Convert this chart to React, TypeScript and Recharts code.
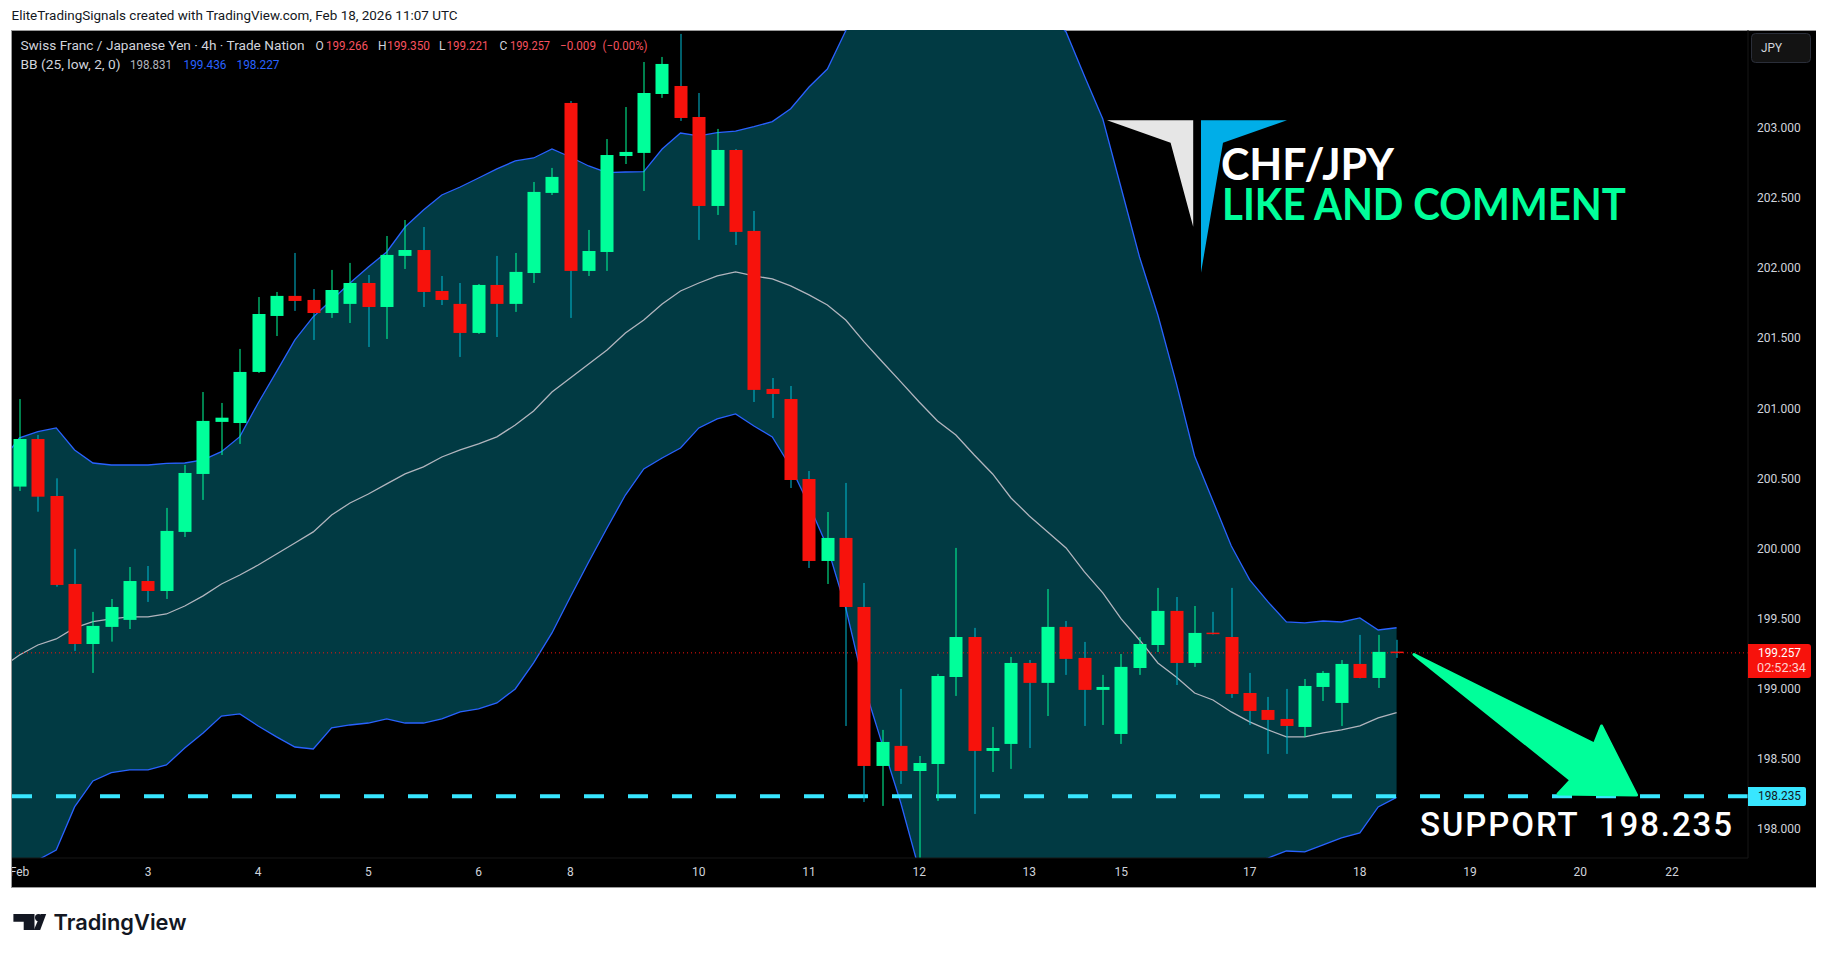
import React from "react";
import { ComposedChart, Area, Bar, Line, XAxis, YAxis, ReferenceLine } from "recharts";

const candleOpen = [200.442,200.781,200.375,199.748,199.320,199.442,199.492,199.769,199.698,200.119,200.532,200.903,200.895,201.259,201.658,201.801,201.772,201.679,201.744,201.893,201.722,202.086,202.128,201.836,201.744,201.537,201.879,201.744,201.964,202.535,203.176,201.979,202.114,202.798,202.820,203.240,203.297,203.076,202.442,202.841,202.264,201.138,201.066,200.496,199.912,200.076,199.584,198.451,198.594,198.415,198.465,199.085,199.370,198.558,198.608,199.185,199.043,199.442,199.221,198.993,198.679,199.149,199.313,199.556,199.185,199.401,199.370,198.971,198.850,198.786,198.729,199.014,198.900,199.178,199.078,199.266];
const candleHigh = [201.066,200.810,200.501,199.998,199.549,199.641,199.869,199.876,200.290,200.596,201.116,201.038,201.423,201.793,201.829,202.107,201.850,201.986,202.036,201.950,202.228,202.342,202.292,201.943,201.893,201.886,202.086,202.107,202.613,202.713,203.190,202.271,202.919,203.147,203.468,203.504,203.668,203.247,202.991,202.848,202.406,201.216,201.159,200.553,200.261,200.468,199.755,198.708,199.000,198.522,199.107,200.005,199.435,198.729,199.228,199.206,199.712,199.484,199.335,199.100,199.249,199.370,199.720,199.655,199.591,199.549,199.720,199.114,198.943,199.000,199.071,199.128,199.206,199.385,199.385,199.350];
const candleLow = [200.411,200.263,199.729,199.271,199.114,199.337,199.427,199.620,199.641,200.083,200.347,200.667,200.746,201.252,201.515,201.694,201.487,201.644,201.608,201.437,201.494,201.993,201.722,201.736,201.366,201.530,201.508,201.687,201.893,202.520,201.644,201.943,201.979,202.741,202.549,203.212,203.048,202.200,202.378,202.164,201.045,200.931,200.432,199.862,199.748,198.736,198.194,198.166,198.323,197.700,198.202,198.950,198.109,198.408,198.430,198.579,198.807,199.100,198.736,198.743,198.608,199.100,199.263,199.028,199.157,199.388,198.936,198.743,198.537,198.537,198.658,198.914,198.736,199.075,199.007,199.221];
const candleClose = [200.781,200.370,199.741,199.320,199.449,199.584,199.769,199.698,200.126,200.539,200.910,200.933,201.259,201.672,201.801,201.765,201.679,201.843,201.893,201.722,202.093,202.128,201.829,201.772,201.537,201.879,201.744,201.972,202.542,202.649,201.979,202.121,202.805,202.827,203.247,203.454,203.069,202.442,202.841,202.257,201.131,201.102,200.489,199.912,200.076,199.584,198.451,198.622,198.415,198.472,199.092,199.370,198.558,198.579,199.185,199.043,199.442,199.214,198.993,199.014,199.157,199.320,199.556,199.185,199.399,199.392,198.964,198.843,198.779,198.736,199.021,199.114,199.178,199.078,199.264,199.257];
const bbUpper = [200.620,200.789,200.833,200.860,200.703,200.610,200.596,200.596,200.596,200.608,200.610,200.632,200.691,200.798,201.038,201.261,201.487,201.653,201.772,201.893,202.007,202.114,202.292,202.413,202.520,202.577,202.641,202.706,202.763,202.784,202.848,202.791,202.727,202.679,202.684,202.686,202.848,202.962,202.941,202.964,202.976,203.007,203.043,203.135,203.290,203.418,203.691,203.924,204.060,204.188,204.380,204.330,204.338,204.302,204.202,204.067,203.939,203.824,203.682,203.368,203.062,202.570,202.078,201.665,201.181,200.660,200.340,200.019,199.777,199.620,199.477,199.470,199.484,199.477,199.506,199.420,199.436];
const bbBasis = [199.150,199.242,199.313,199.356,199.435,199.479,199.499,199.513,199.513,199.534,199.591,199.663,199.748,199.812,199.883,199.962,200.040,200.119,200.240,200.325,200.389,200.461,200.532,200.582,200.653,200.703,200.746,200.796,200.881,200.981,201.116,201.216,201.316,201.416,201.537,201.629,201.744,201.836,201.893,201.943,201.972,201.943,201.922,201.872,201.808,201.736,201.629,201.473,201.330,201.188,201.045,200.910,200.810,200.667,200.532,200.361,200.233,200.119,200.005,199.834,199.684,199.499,199.349,199.185,199.085,198.971,198.921,198.836,198.765,198.708,198.658,198.658,198.686,198.708,198.736,198.793,198.831];
const bbLower = [197.570,197.674,197.781,197.852,198.159,198.344,198.403,198.423,198.423,198.458,198.579,198.686,198.807,198.822,198.736,198.658,198.586,198.572,198.722,198.743,198.757,198.786,198.757,198.757,198.786,198.836,198.857,198.900,199.000,199.185,199.399,199.655,199.905,200.147,200.382,200.568,200.646,200.717,200.860,200.924,200.960,200.874,200.796,200.582,200.311,200.012,199.577,199.021,198.601,198.187,197.710,197.489,197.282,197.033,196.862,196.655,196.527,196.413,196.327,196.299,196.306,196.427,196.619,196.705,196.990,197.282,197.503,197.653,197.753,197.795,197.845,197.838,197.888,197.938,197.974,198.159,198.227];

const priceTicks = [198, 198.5, 199, 199.5, 200, 200.5, 201, 201.5, 202, 202.5, 203];
const timeTickPositions = [0, 7, 13, 19, 25, 30, 37, 43, 49, 55, 60, 67, 73, 79, 85, 90];
const timeTickLabels = ["Feb", "3", "4", "5", "6", "8", "10", "11", "12", "13", "15", "17", "18", "19", "20", "22"];

const supportLevel = 198.235;
const lastPrice = 199.257;

const COLORS = {
  up: "#00ff9a",
  down: "#f7120c",
  downWick: "#00bcd4",
  band: "#013a43",
  bbLine: "#2962ff",
  basis: "#b2b5be",
  support: "#38e6ff",
  axisText: "#d1d4dc",
};
const FONT = "Roboto, 'Open Sans', sans-serif";

// One row per candle, plus one leading row for the part of the bands left of the first candle.
const rows = bbBasis.map((basis, i) => {
  const c = i - 1;
  return {
    idx: c,
    basis,
    upper: bbUpper[i],
    lower: bbLower[i],
    open: c >= 0 ? candleOpen[c] : null,
    high: c >= 0 ? candleHigh[c] : null,
    low: c >= 0 ? candleLow[c] : null,
    close: c >= 0 ? candleClose[c] : null,
  };
});

function CandleShape(props: any) {
  const { x, y, width, height, payload } = props;
  if (payload == null || payload.open == null || height == null) return null;
  const { open, high, low, close } = payload;
  const k = height / (high - low);
  const isUp = close >= open;
  const top = y + (high - Math.max(open, close)) * k;
  const bodyH = Math.max(1.5, Math.abs(open - close) * k);
  const cx = Math.round(x + width / 2);
  return (
    <g>
      <rect x={cx - 0.5} y={y} width={1} height={height} fill={isUp ? COLORS.up : COLORS.downWick} />
      <rect x={cx - 6.5} y={top} width={13} height={bodyH} fill={isUp ? COLORS.up : COLORS.down} />
    </g>
  );
}

const T = (p: any) => <text fontFamily={FONT} fontSize={12} dominantBaseline="middle" lengthAdjust="spacingAndGlyphs" {...p} />;

function Overlay() {
  const red = "#f7525f";
  const blue = "#2962ff";
  const legend = "#d1d4dc";
  return (
    <svg width={1826} height={955} style={{ position: "absolute", left: 0, top: 0, pointerEvents: "none" }}>
      <rect x={0} y={860} width={11} height={29} fill="#ffffff" />
      <rect x={11} y={30} width={1} height={858} fill="#9a9a9a" />
      {/* header */}
      <T x={11.5} y={16.5} fill="#131722" textLength={446}>EliteTradingSignals created with TradingView.com, Feb 18, 2026 11:07 UTC</T>
      {/* legend */}
      <T x={20.5} y={46.5} fill={legend} textLength={284}>Swiss Franc / Japanese Yen · 4h · Trade Nation</T>
      <T x={315.5} y={46.5} fill={legend}>O</T>
      <T x={326} y={46.5} fill={red} textLength={42}>199.266</T>
      <T x={378} y={46.5} fill={legend}>H</T>
      <T x={387} y={46.5} fill={red} textLength={43}>199.350</T>
      <T x={439} y={46.5} fill={legend}>L</T>
      <T x={446.5} y={46.5} fill={red} textLength={42}>199.221</T>
      <T x={499.5} y={46.5} fill={legend}>C</T>
      <T x={510} y={46.5} fill={red} textLength={40}>199.257</T>
      <T x={560} y={46.5} fill={red} textLength={36}>−0.009</T>
      <T x={602.5} y={46.5} fill={red} textLength={45}>(−0.00%)</T>
      <T x={20.5} y={65.5} fill={legend} textLength={100}>BB (25, low, 2, 0)</T>
      <T x={130} y={65.5} fill={COLORS.basis} textLength={42}>198.831</T>
      <T x={183.5} y={65.5} fill={blue} textLength={43}>199.436</T>
      <T x={236.5} y={65.5} fill={blue} textLength={43}>198.227</T>
      {/* logo drawing */}
      <polygon points="1107,120.3 1193.2,120.3 1193.2,226.7 1170.6,142.7" fill="#e6e6e6" />
      <polygon points="1201,120.3 1287,120.3 1223,142.7 1201,272.7" fill="#00aee8" />
      <text x={1221} y={180} fontFamily="Lato, sans-serif" fontWeight={700} fontSize={43} fill="#ffffff" textLength={173} lengthAdjust="spacingAndGlyphs">CHF/JPY</text>
      <text x={1222} y={219.7} fontFamily="Lato, sans-serif" fontWeight={700} fontSize={43} fill={COLORS.up} textLength={404} lengthAdjust="spacingAndGlyphs">LIKE AND COMMENT</text>
      {/* arrow drawing */}
      <polygon points="1414,654.5 1594.4,744 1601.5,726 1636.5,795 1558,794 1571,780" fill={COLORS.up} stroke={COLORS.up} strokeWidth={3} strokeLinejoin="round" />
      <text x={1420} y={836} fontFamily={FONT} fontWeight={500} fontSize={33} fill="#ffffff" textLength={312} lengthAdjust="spacing" xmlSpace="preserve">SUPPORT  198.235</text>
      {/* price labels */}
      <path d="M1748,644 H1808 a3,3 0 0 1 3,3 V675 a3,3 0 0 1 -3,3 H1748 Z" fill={COLORS.down} />
      <T x={1758} y={654} fill="#ffffff" textLength={43}>199.257</T>
      <T x={1757} y={669} fill="#ffd0ce" textLength={49}>02:52:34</T>
      <path d="M1748,787 H1804 a2,2 0 0 1 2,2 V804 a2,2 0 0 1 -2,2 H1748 Z" fill={COLORS.support} />
      <T x={1758} y={797} fill="#131722" textLength={43}>198.235</T>
      <rect x={1751.5} y={33.5} width={59} height={29} rx={4} fill="#131313" stroke="#2a2e39" />
      <T x={1761} y={48.5} fill={legend} textLength={21}>JPY</T>
      {/* footer logo */}
      <path d="M13.4,914 H34.5 V930 H23.7 V921.7 H13.4 Z" fill="#131722" />
      <circle cx={38.6} cy={917.6} r={3.6} fill="#131722" />
      <polygon points="40.8,914 46.2,914 40.2,930 33.8,930" fill="#131722" />
      <text x={53.5} y={930} fontFamily="Inter, sans-serif" fontWeight={600} fontSize={22} fill="#131722" textLength={133} lengthAdjust="spacingAndGlyphs">TradingView</text>
    </svg>
  );
}

export default function App() {
  return (
    <div style={{ position: "absolute", left: 0, top: 0, width: 1826, height: 955, background: "#ffffff", overflow: "hidden" }}>
      <div style={{ position: "absolute", left: 11, top: 30, width: 1805, height: 858, background: "#000000", borderTop: "1px solid #9a9a9a", borderBottom: "1px solid #9a9a9a", boxSizing: "border-box" }} />
      <div style={{ position: "absolute", left: 0, top: 0 }}>
        <ComposedChart width={1826} height={955} data={rows} margin={{ top: 30, right: 11, bottom: 67, left: 11 }}>
          <XAxis
            dataKey="idx"
            type="number"
            domain={[-0.463, 94.14]}
            allowDataOverflow
            ticks={timeTickPositions}
            interval={0}
            tickFormatter={(v: number) => timeTickLabels[timeTickPositions.indexOf(v)]}
            tick={{ fill: COLORS.axisText, fontSize: 12, fontFamily: FONT }}
            tickLine={false}
            tickSize={0}
            tickMargin={9}
            axisLine={{ stroke: "#161616" }}
            height={30}
          />
          <YAxis
            orientation="right"
            type="number"
            domain={[197.795, 203.696]}
            allowDataOverflow
            ticks={priceTicks}
            interval={0}
            tickFormatter={(v: number) => v.toFixed(3)}
            tick={{ fill: COLORS.axisText, fontSize: 12, fontFamily: FONT }}
            tickLine={false}
            tickSize={0}
            tickMargin={9}
            axisLine={{ stroke: "#161616" }}
            width={67}
          />
          <Area
            dataKey={(d: any) => [d.lower, d.upper]}
            type="linear"
            fill={COLORS.band}
            fillOpacity={1}
            stroke="none"
            dot={false}
            activeDot={false}
            isAnimationActive={false}
          />
          <Line dataKey="upper" type="linear" stroke={COLORS.bbLine} strokeWidth={1.3} dot={false} activeDot={false} isAnimationActive={false} />
          <Line dataKey="lower" type="linear" stroke={COLORS.bbLine} strokeWidth={1.3} dot={false} activeDot={false} isAnimationActive={false} />
          <Line dataKey="basis" type="linear" stroke={COLORS.basis} strokeWidth={1.3} dot={false} activeDot={false} isAnimationActive={false} />
          <ReferenceLine y={lastPrice} stroke="#f7120c" strokeWidth={1} strokeDasharray="1 3" />
          <ReferenceLine y={supportLevel} stroke={COLORS.support} strokeWidth={4} strokeDasharray="20 24" />
          <Bar
            dataKey={(d: any) => (d.open == null ? null : [d.low, d.high])}
            barSize={13}
            shape={CandleShape}
            isAnimationActive={false}
            zIndex={450}
          />
        </ComposedChart>
      </div>
      <Overlay />
    </div>
  );
}
